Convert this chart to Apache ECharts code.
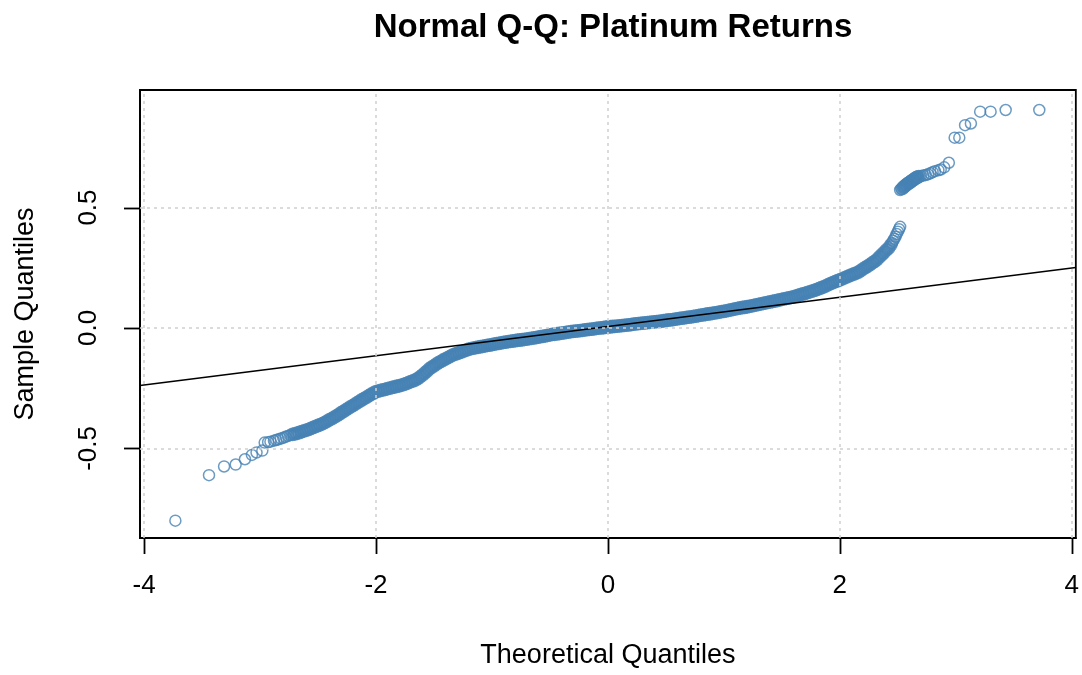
<!DOCTYPE html>
<html><head><meta charset="utf-8">
<script src="https://cdn.jsdelivr.net/npm/echarts@6/dist/echarts.min.js"></script>
<style>html,body{margin:0;padding:0;background:#fff}#c{width:1082px;height:675px}</style>
</head><body><div id="c"></div>
<script>
const titleText = 'Normal Q-Q: Platinum Returns';
const xName = 'Theoretical Quantiles';
const yName = 'Sample Quantiles';
const xTicks = [-4, -2, 0, 2, 4];
const yTicks = [-0.5, 0, 0.5];

// [theoretical quantile, sample quantile]
const lowerTail = [
  [-3.73,-0.800],[-3.44,-0.611],[-3.31,-0.575],[-3.21,-0.567],[-3.13,-0.545],[-3.07,-0.527],
  [-3.03,-0.517],[-2.98,-0.509],[-2.96,-0.476],[-2.93,-0.474],[-2.91,-0.472],[-2.88,-0.468],
  [-2.86,-0.465],[-2.84,-0.462],[-2.82,-0.459],[-2.80,-0.456],[-2.78,-0.452],[-2.76,-0.448],[-2.74,-0.445]
];
const band = [
  [-2.72,-0.442],[-2.70,-0.440],[-2.68,-0.437],[-2.66,-0.434],[-2.64,-0.430],[-2.62,-0.427],[-2.60,-0.424],
  [-2.58,-0.421],[-2.56,-0.417],[-2.54,-0.413],[-2.52,-0.409],[-2.50,-0.405],[-2.48,-0.401],[-2.46,-0.397],
  [-2.44,-0.392],[-2.42,-0.387],[-2.40,-0.381],[-2.38,-0.376],[-2.36,-0.370],[-2.34,-0.365],[-2.32,-0.359],
  [-2.30,-0.352],[-2.28,-0.346],[-2.26,-0.340],[-2.24,-0.334],[-2.22,-0.328],[-2.20,-0.322],[-2.18,-0.316],
  [-2.16,-0.310],[-2.14,-0.304],[-2.12,-0.298],[-2.10,-0.292],[-2.08,-0.287],[-2.06,-0.281],[-2.04,-0.275],
  [-2.02,-0.270],[-2.00,-0.264],[-1.98,-0.262],[-1.96,-0.259],[-1.94,-0.257],[-1.92,-0.255],[-1.90,-0.252],
  [-1.88,-0.250],[-1.86,-0.247],[-1.84,-0.245],[-1.82,-0.242],[-1.80,-0.240],[-1.78,-0.237],[-1.76,-0.234],
  [-1.74,-0.231],[-1.72,-0.227],[-1.70,-0.223],[-1.68,-0.220],[-1.66,-0.216],[-1.64,-0.210],[-1.62,-0.203],
  [-1.60,-0.196],[-1.58,-0.187],[-1.56,-0.179],[-1.54,-0.170],[-1.52,-0.163],[-1.50,-0.157],[-1.48,-0.150],
  [-1.46,-0.144],[-1.44,-0.139],[-1.42,-0.133],[-1.40,-0.128],[-1.38,-0.123],[-1.36,-0.118],[-1.34,-0.113],
  [-1.32,-0.109],[-1.30,-0.106],[-1.28,-0.102],[-1.26,-0.099],[-1.24,-0.095],[-1.22,-0.092],[-1.20,-0.088],
  [-1.18,-0.086],[-1.16,-0.084],[-1.14,-0.082],[-1.12,-0.080],[-1.10,-0.078],[-1.08,-0.076],[-1.06,-0.074],
  [-1.04,-0.072],[-1.02,-0.071],[-1.00,-0.069],[-0.98,-0.067],[-0.96,-0.065],[-0.94,-0.064],[-0.92,-0.062],
  [-0.90,-0.060],[-0.88,-0.059],[-0.86,-0.057],[-0.84,-0.056],[-0.82,-0.054],[-0.80,-0.053],[-0.78,-0.051],
  [-0.76,-0.050],[-0.74,-0.049],[-0.72,-0.047],[-0.70,-0.046],[-0.68,-0.044],[-0.66,-0.043],[-0.64,-0.041],
  [-0.62,-0.040],[-0.60,-0.038],[-0.58,-0.036],[-0.56,-0.035],[-0.54,-0.033],[-0.52,-0.031],[-0.50,-0.029],
  [-0.48,-0.027],[-0.46,-0.026],[-0.44,-0.024],[-0.42,-0.023],[-0.40,-0.021],[-0.38,-0.020],[-0.36,-0.018],
  [-0.34,-0.017],[-0.32,-0.015],[-0.30,-0.014],[-0.28,-0.013],[-0.26,-0.012],[-0.24,-0.011],[-0.22,-0.010],
  [-0.20,-0.008],[-0.18,-0.007],[-0.16,-0.006],[-0.14,-0.005],[-0.12,-0.004],[-0.10,-0.002],[-0.08,-0.001],
  [-0.06,0.000],[-0.04,0.001],[-0.02,0.003],[0.00,0.004],[0.02,0.005],[0.04,0.006],[0.06,0.007],
  [0.08,0.008],[0.10,0.009],[0.12,0.010],[0.14,0.011],[0.16,0.012],[0.18,0.013],[0.20,0.014],
  [0.22,0.016],[0.24,0.017],[0.26,0.018],[0.28,0.019],[0.30,0.020],[0.32,0.021],[0.34,0.022],
  [0.36,0.023],[0.38,0.024],[0.40,0.025],[0.42,0.026],[0.44,0.027],[0.46,0.028],[0.48,0.030],
  [0.50,0.031],[0.52,0.033],[0.54,0.034],[0.56,0.035],[0.58,0.037],[0.60,0.038],[0.62,0.040],
  [0.64,0.041],[0.66,0.042],[0.68,0.044],[0.70,0.045],[0.72,0.046],[0.74,0.048],[0.76,0.049],
  [0.78,0.051],[0.80,0.053],[0.82,0.054],[0.84,0.056],[0.86,0.058],[0.88,0.059],[0.90,0.061],
  [0.92,0.063],[0.94,0.064],[0.96,0.066],[0.98,0.068],[1.00,0.069],[1.02,0.071],[1.04,0.073],
  [1.06,0.075],[1.08,0.077],[1.10,0.079],[1.12,0.081],[1.14,0.083],[1.16,0.085],[1.18,0.086],
  [1.20,0.088],[1.22,0.090],[1.24,0.092],[1.26,0.094],[1.28,0.096],[1.30,0.098],[1.32,0.100],
  [1.34,0.102],[1.36,0.104],[1.38,0.106],[1.40,0.108],[1.42,0.110],[1.44,0.112],[1.46,0.114],
  [1.48,0.117],[1.50,0.119],[1.52,0.121],[1.54,0.123],[1.56,0.125],[1.58,0.127],[1.60,0.129],
  [1.62,0.132],[1.64,0.135],[1.66,0.138],[1.68,0.141],[1.70,0.144],[1.72,0.147],[1.74,0.150],
  [1.76,0.153],[1.78,0.156],[1.80,0.159],[1.82,0.163],[1.84,0.167],[1.86,0.171],[1.88,0.175],
  [1.90,0.180],[1.92,0.184],[1.94,0.188],[1.96,0.192],[1.98,0.196],[2.00,0.200],[2.02,0.204],
  [2.04,0.208],[2.06,0.212],[2.08,0.216],[2.10,0.220],[2.12,0.224],[2.14,0.228],[2.16,0.232],
  [2.18,0.238],[2.20,0.245],[2.22,0.251],[2.24,0.257],[2.26,0.263],[2.28,0.270],[2.30,0.276],
  [2.32,0.284],[2.34,0.294],[2.36,0.303],[2.38,0.313],[2.40,0.323],[2.42,0.332],[2.44,0.345]
];
const bandEnd = [
  [2.45,0.353],[2.46,0.362],[2.47,0.370],[2.48,0.379],[2.49,0.390],[2.50,0.400],[2.51,0.410],[2.52,0.420]
];
const upperCluster = [
  [2.54,0.580],[2.55,0.585],[2.56,0.589],[2.57,0.593],[2.58,0.597],
  [2.59,0.600],[2.60,0.603],[2.61,0.607],[2.62,0.611],[2.63,0.614],[2.64,0.617],[2.65,0.621],
  [2.66,0.624],[2.67,0.626],[2.68,0.628]
];
const upperTail = [
  [2.52,0.573],[2.53,0.577],
  [2.70,0.631],[2.72,0.633],[2.74,0.635],[2.76,0.638],
  [2.78,0.642],[2.80,0.647],[2.82,0.651],[2.85,0.655],[2.87,0.658],[2.90,0.667],[2.94,0.686],
  [2.99,0.790],[3.03,0.790],[3.08,0.842],[3.13,0.849],[3.21,0.898],[3.30,0.898],[3.43,0.905],[3.72,0.905]
];
const refLine = [[-4.035,-0.239],[4.035,0.251]];

const X_MIN = -4.035, X_MAX = 4.035, Y_MIN = -0.872, Y_MAX = 0.988;
const FONT = '"Liberation Sans", Arial, Helvetica, sans-serif';
const BLUE = '#4682B4';
const TICK_LEN = 16;
const chart = echarts.init(document.getElementById('c'));
const gridMarks = xTicks.map(v => ({xAxis: v})).concat(yTicks.map(v => ({yAxis: v})));

chart.setOption({
  animation: false,
  backgroundColor: '#ffffff',
  title: {
    text: titleText, left: 608, top: 6, textAlign: 'center',
    textStyle: {fontFamily: FONT, fontSize: 33, fontWeight: 'bold', color: '#000'}
  },
  grid: {left: 140, right: 4, top: 90, bottom: 137, show: true, borderColor: '#000', borderWidth: 1.8, backgroundColor: 'transparent'},
  xAxis: {
    type: 'value', min: X_MIN, max: X_MAX,
    name: xName, nameLocation: 'middle', nameGap: 104,
    nameTextStyle: {fontFamily: FONT, fontSize: 27, color: '#000'},
    axisLine: {show: true, onZero: false, lineStyle: {color: '#000', width: 1.8}},
    axisTick: {show: false},
    axisLabel: {customValues: xTicks, margin: 35, fontFamily: FONT, fontSize: 26, color: '#000',
      formatter: v => String(v)},
    splitLine: {show: false}
  },
  yAxis: {
    type: 'value', min: Y_MIN, max: Y_MAX,
    name: yName, nameLocation: 'middle', nameGap: 101, nameRotate: 90,
    nameTextStyle: {fontFamily: FONT, fontSize: 27, color: '#000'},
    axisLine: {show: true, onZero: false, lineStyle: {color: '#000', width: 1.8}},
    axisTick: {show: false},
    axisLabel: {customValues: yTicks, rotate: 90, margin: 38, fontFamily: FONT, fontSize: 26, color: '#000',
      formatter: v => v.toFixed(1)},
    splitLine: {show: false}
  },
  series: [
    {
      type: 'line', data: [], z: 1, silent: true,
      markLine: {silent: true, symbol: 'none', label: {show: false}, animation: false,
        lineStyle: {color: '#d0d0d0', type: [3, 4], width: 1.5}, data: gridMarks}
    },
    {
      type: 'scatter', z: 2, symbol: 'circle', symbolSize: 11, silent: true,
      itemStyle: {color: 'rgba(0,0,0,0)', borderColor: BLUE, borderWidth: 1.5},
      data: lowerTail.concat(bandEnd, upperTail)
    },
    {
      type: 'scatter', z: 2, symbol: 'circle', symbolSize: 10, silent: true,
      itemStyle: {color: 'rgba(0,0,0,0)', borderColor: BLUE, borderWidth: 3.8},
      data: band.concat(upperCluster)
    },
    {
      type: 'line', z: 3, data: refLine, symbol: 'none', silent: true,
      lineStyle: {color: '#000', width: 1.5}
    }
  ]
});

// Outward ticks (R style), positioned through the chart's own axis scales
const axisY = chart.convertToPixel({yAxisIndex: 0}, Y_MIN);
const axisX = chart.convertToPixel({xAxisIndex: 0}, X_MIN);
const tickEls = [];
xTicks.forEach(v => {
  const px = Math.round(chart.convertToPixel({xAxisIndex: 0}, v)) + 0.5;
  tickEls.push({type: 'line', silent: true, z: 10,
    shape: {x1: px, y1: axisY, x2: px, y2: axisY + TICK_LEN},
    style: {stroke: '#000', lineWidth: 1.8}});
});
yTicks.forEach(v => {
  const py = Math.round(chart.convertToPixel({yAxisIndex: 0}, v)) + 0.5;
  tickEls.push({type: 'line', silent: true, z: 10,
    shape: {x1: axisX - TICK_LEN, y1: py, x2: axisX, y2: py},
    style: {stroke: '#000', lineWidth: 1.8}});
});
chart.setOption({graphic: tickEls});
</script>
</body></html>
